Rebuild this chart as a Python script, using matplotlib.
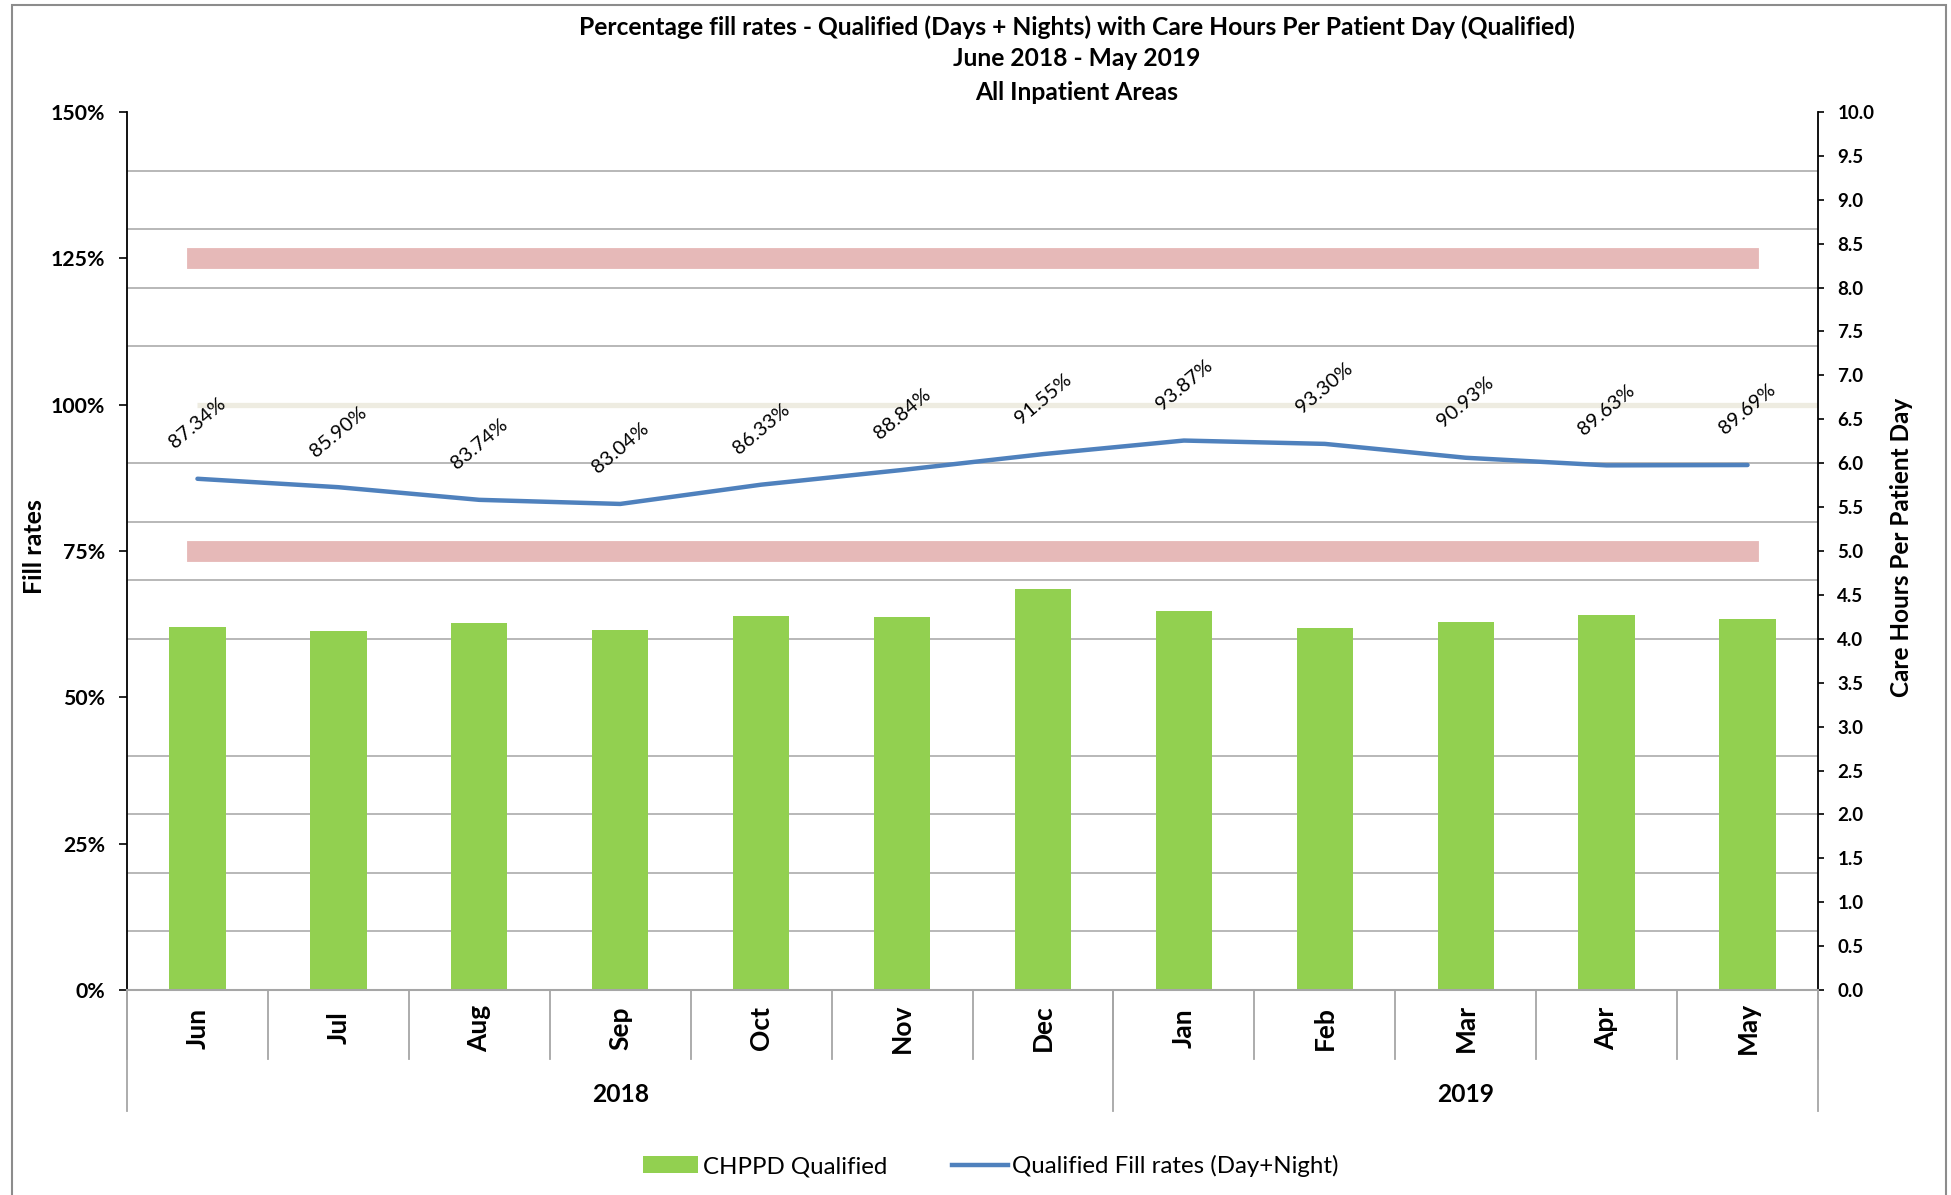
import numpy as np
import matplotlib
matplotlib.use("Agg")
import matplotlib.pyplot as plt
from matplotlib.patches import Rectangle
from matplotlib.lines import Line2D
from matplotlib.patches import Patch
from matplotlib.ticker import MultipleLocator, FuncFormatter
import matplotlib.transforms as mtrans

# --- data ---
months = ["Jun", "Jul", "Aug", "Sep", "Oct", "Nov", "Dec",
          "Jan", "Feb", "Mar", "Apr", "May"]
years = ["2018", "2019"]
year_span = [7, 5]          # months per year group
fill_rates = [87.34, 85.90, 83.74, 83.04, 86.33, 88.84, 91.55,
              93.87, 93.30, 90.93, 89.63, 89.69]
chppd = [4.13, 4.09, 4.18, 4.10, 4.26, 4.25, 4.57,
         4.32, 4.12, 4.19, 4.27, 4.23]
upper_band = 125
lower_band = 75
target_line = 100

GREEN = "#92D050"
BLUE = "#4F81BD"
RED = "#E6B9B8"
BEIGE = "#EEECE1"
GRID = "#B8B8B8"

plt.rcParams["font.family"] = ["Lato", "DejaVu Sans"]

W, H = 1951, 1195
fig = plt.figure(figsize=(W / 100, H / 100), dpi=100)
ax = fig.add_axes([127 / W, 1 - 990 / H, (1818 - 127) / W, (990 - 112) / H])
ax2 = ax.twinx()

x = np.arange(len(months))

# gridlines every 10% on the left scale, labels every 25%
ax.set_ylim(0, 150)
ax.yaxis.set_major_locator(MultipleLocator(25))
ax.yaxis.set_minor_locator(MultipleLocator(10))
ax.yaxis.set_major_formatter(FuncFormatter(lambda v, p: f"{v:.0f}%"))
ax.grid(axis="y", which="minor", color=GRID, lw=1.4)
ax.grid(axis="y", which="major", visible=False)
ax.tick_params(axis="y", which="major", length=5.5, width=1.2, pad=10,
               labelsize=15.3, direction="out")
ax.tick_params(axis="y", which="minor", length=0)
for lab in ax.get_yticklabels():
    lab.set_fontweight("bold")
ax.set_axisbelow(True)
ax.set_xlim(-0.5, len(months) - 0.5)
ax.set_xticks([])
for s in ["top", "right", "bottom"]:
    ax.spines[s].set_visible(False)
ax.spines["left"].set_linewidth(1.3)
ax.spines["left"].set_color("black")

# bars on the care-hours scale
ax2.set_ylim(0, 10)
ax2.yaxis.set_major_locator(MultipleLocator(0.5))
ax2.yaxis.set_major_formatter(FuncFormatter(lambda v, p: f"{v:.1f}"))
ax2.tick_params(axis="y", length=4, width=1.2, pad=10, labelsize=13.5)
for lab in ax2.get_yticklabels():
    lab.set_fontweight("bold")
for s in ["top", "left"]:
    ax2.spines[s].set_visible(False)
ax2.spines["right"].set_linewidth(1.3)
ax2.spines["bottom"].set_color("#A6A6A6")
ax2.spines["bottom"].set_linewidth(1.5)
ax2.bar(x, chppd, width=0.4, color=GREEN, zorder=1)

# reference bands and fill-rate line (left scale)
pct = ax.transData
ax2.plot([x[0], x[-1]], [upper_band, upper_band], transform=pct, color=RED,
         lw=15, solid_capstyle="projecting", zorder=2)
ax2.plot([x[0], x[-1]], [lower_band, lower_band], transform=pct, color=RED,
         lw=15, solid_capstyle="projecting", zorder=2)
ax2.plot([x[0], len(months) - 0.5], [target_line, target_line], transform=pct,
         color=BEIGE, lw=3.8, solid_capstyle="butt", zorder=2)
ax2.plot(x, fill_rates, transform=pct, color=BLUE, lw=3.2,
         solid_capstyle="round", solid_joinstyle="round", zorder=3)
for xi, v in zip(x, fill_rates):
    ax2.annotate(f"{v:.2f}%", xy=(xi, v), xycoords=pct, xytext=(0, 40),
                 textcoords="offset points", ha="center", va="center",
                 rotation=40, fontsize=14.5, zorder=4)

# two-level category axis
blend = mtrans.blended_transform_factory(ax.transData, ax.transAxes)
sep_low = -(1059 - 990) / (990 - 112)
year_low = -(1111 - 990) / (990 - 112)
for i in range(len(months) + 1):
    ax.plot([i - 0.5, i - 0.5], [0, sep_low], transform=blend, color="#A6A6A6",
            lw=1.3, clip_on=False)
for i, m in enumerate(months):
    ax.text(i, -(1028 - 990) / (990 - 112), m, transform=blend, rotation=90,
            ha="center", va="center", fontsize=19, fontweight="bold")
start = 0
bounds = [start]
for n in year_span:
    start += n
    bounds.append(start)
for b in bounds:
    ax.plot([b - 0.5, b - 0.5], [0, year_low], transform=blend, color="#A6A6A6",
            lw=1.3, clip_on=False)
for yr, a, b in zip(years, bounds[:-1], bounds[1:]):
    ax.text((a + b - 1) / 2, -(1094 - 990) / (990 - 112), yr, transform=blend,
            ha="center", va="center", fontsize=17.7, fontweight="bold")

# titles and axis labels
title_lines = ["Percentage fill rates - Qualified (Days + Nights) with Care Hours Per Patient Day (Qualified)",
               "June 2018 - May 2019", "All Inpatient Areas"]
for t, yy in zip(title_lines, [27, 59, 93]):
    fig.text(1077 / W, 1 - yy / H, t, ha="center", va="center",
             fontsize=17.7, fontweight="bold")
fig.text(35 / W, 1 - 547 / H, "Fill rates", rotation=90, ha="center",
         va="center", fontsize=18, fontweight="bold")
fig.text(1901 / W, 1 - 547 / H, "Care Hours Per Patient Day", rotation=90,
         ha="center", va="center", fontsize=17.5, fontweight="bold")

# legend
handles = [Patch(facecolor=GREEN, edgecolor="none"),
           Line2D([], [], color=BLUE, lw=3.2)]
fig.legend(handles, ["CHPPD Qualified", "Qualified Fill rates (Day+Night)"],
           loc="center", bbox_to_anchor=(991 / W, 1 - 1166 / H), ncol=2,
           frameon=False, fontsize=17.3, handlelength=2.3, handletextpad=0.2,
           columnspacing=2.7)

# chart area border
fig.patches.append(Rectangle((12 / W, -0.05), (1946 - 12) / W, 0.05 + 1 - 5 / H,
                             transform=fig.transFigure, fill=False,
                             edgecolor="#8C8C8C", lw=1.5))

fig.savefig("out.png", dpi=100)
